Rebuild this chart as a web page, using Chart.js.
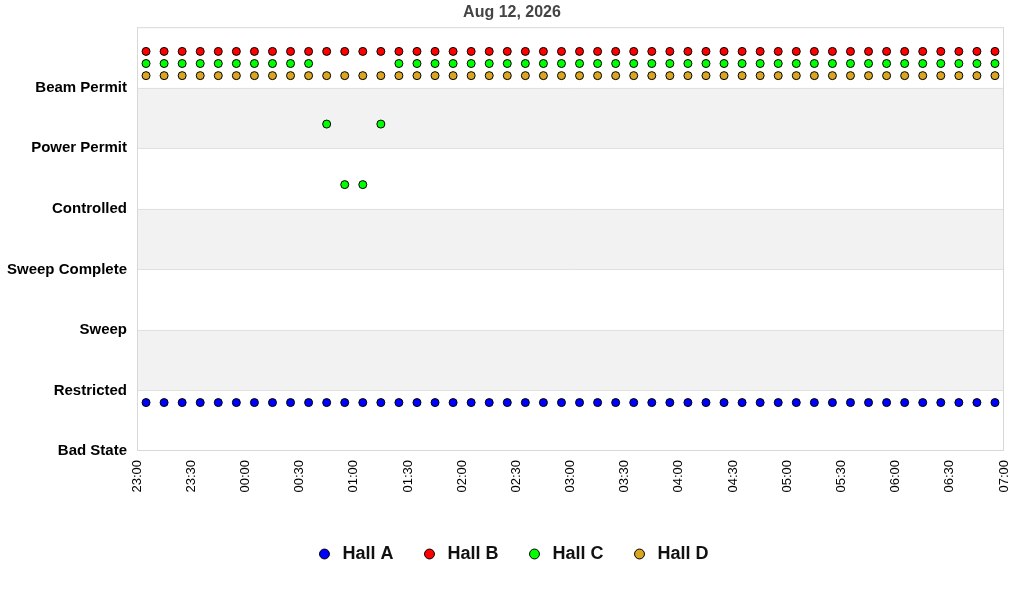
<!DOCTYPE html>
<html>
<head>
<meta charset="utf-8">
<script src="https://cdn.jsdelivr.net/npm/chart.js@4/dist/chart.umd.min.js"></script>
<style>
  html, body { margin: 0; padding: 0; background: #fff; }
  #wrap { width: 1024px; height: 600px; }
</style>
</head>
<body>
<div id="wrap"><canvas id="myChart"></canvas></div>
<script>
// state names, bottom to top
const stateNames = ["Bad State", "Restricted", "Sweep", "Sweep Complete", "Controlled", "Power Permit", "Beam Permit"];

// sample times, minutes after 23:00 (one every 10 minutes)
const sampleMinutes = [
  5, 15, 25, 35, 45, 55, 65, 75, 85, 95, 105, 115, 125, 135, 145, 155,
  165, 175, 185, 195, 205, 215, 225, 235, 245, 255, 265, 275, 285, 295, 305, 315,
  325, 335, 345, 355, 365, 375, 385, 395, 405, 415, 425, 435, 445, 455, 465, 475
];

// state index per sample for each hall
const hallA = [
  0, 0, 0, 0, 0, 0, 0, 0, 0, 0, 0, 0, 0, 0, 0, 0,
  0, 0, 0, 0, 0, 0, 0, 0, 0, 0, 0, 0, 0, 0, 0, 0,
  0, 0, 0, 0, 0, 0, 0, 0, 0, 0, 0, 0, 0, 0, 0, 0
];
const hallB = [
  6, 6, 6, 6, 6, 6, 6, 6, 6, 6, 6, 6, 6, 6, 6, 6,
  6, 6, 6, 6, 6, 6, 6, 6, 6, 6, 6, 6, 6, 6, 6, 6,
  6, 6, 6, 6, 6, 6, 6, 6, 6, 6, 6, 6, 6, 6, 6, 6
];
const hallC = [
  6, 6, 6, 6, 6, 6, 6, 6, 6, 6, 5, 4, 4, 5, 6, 6,
  6, 6, 6, 6, 6, 6, 6, 6, 6, 6, 6, 6, 6, 6, 6, 6,
  6, 6, 6, 6, 6, 6, 6, 6, 6, 6, 6, 6, 6, 6, 6, 6
];
const hallD = [
  6, 6, 6, 6, 6, 6, 6, 6, 6, 6, 6, 6, 6, 6, 6, 6,
  6, 6, 6, 6, 6, 6, 6, 6, 6, 6, 6, 6, 6, 6, 6, 6,
  6, 6, 6, 6, 6, 6, 6, 6, 6, 6, 6, 6, 6, 6, 6, 6
];

const hallNames = ["Hall A", "Hall B", "Hall C", "Hall D"];
const hallColors = ["#0000ff", "#ff0000", "#00ff00", "#daa520"];
// where inside its state band each hall sits
const hallOffsets = [0.8, 0.6, 0.4, 0.2];

function fmtTime(m) {
  const h = (23 + Math.floor(m / 60)) % 24;
  const mm = m % 60;
  return String(h).padStart(2, "0") + ":" + String(mm).padStart(2, "0");
}

// gray bands behind every other state
const bandPlugin = {
  id: "bands",
  beforeDatasetsDraw(chart) {
    const { ctx, chartArea, scales } = chart;
    ctx.save();
    ctx.fillStyle = "#f2f2f2";
    for (let s = 1; s < stateNames.length; s += 2) {
      const y1 = scales.y.getPixelForValue(s + 1);
      const y0 = scales.y.getPixelForValue(s);
      ctx.fillRect(chartArea.left, y1, chartArea.right - chartArea.left, y0 - y1);
    }
    ctx.strokeStyle = "#e0e0e0";
    ctx.lineWidth = 1;
    for (let s = 1; s < stateNames.length; s++) {
      const y = Math.round(scales.y.getPixelForValue(s)) + 0.5;
      ctx.beginPath();
      ctx.moveTo(chartArea.left, y);
      ctx.lineTo(chartArea.right, y);
      ctx.stroke();
    }
    ctx.strokeStyle = "#d8d8d8";
    ctx.strokeRect(chartArea.left + 0.5, chartArea.top + 0.5,
      chartArea.right - chartArea.left - 1, chartArea.bottom - chartArea.top - 1);
    ctx.restore();
  }
};

const allHalls = [hallA, hallB, hallC, hallD];
const datasets = [];
for (let i = 0; i < allHalls.length; i++) {
  const pts = [];
  for (let j = 0; j < sampleMinutes.length; j++) {
    pts.push({ x: sampleMinutes[j], y: allHalls[i][j] + hallOffsets[i] });
  }
  datasets.push({
    label: hallNames[i],
    data: pts,
    showLine: false,
    backgroundColor: hallColors[i],
    borderColor: "#000",
    borderWidth: 1,
    pointRadius: 4,
    pointHoverRadius: 4
  });
}

Chart.defaults.font.family = "'Liberation Sans', Arial, sans-serif";
Chart.defaults.color = "#000";

new Chart(document.getElementById("myChart"), {
  type: "scatter",
  data: { datasets: datasets },
  plugins: [bandPlugin],
  options: {
    responsive: true,
    maintainAspectRatio: false,
    animation: false,
    layout: { padding: { left: 0, right: 0, top: 0, bottom: 27 } },
    plugins: {
      title: {
        display: true,
        text: "Aug 12, 2026",
        color: "#444",
        font: { size: 16, weight: "bold" },
        padding: { top: 3, bottom: 5 }
      },
      legend: {
        position: "bottom",
        labels: {
          usePointStyle: true,
          pointStyle: "circle",
          boxWidth: 18,
          boxHeight: 7,
          padding: 27,
          color: "#111",
          font: { size: 18, weight: "bold" }
        }
      },
      tooltip: { enabled: false }
    },
    scales: {
      x: {
        type: "linear",
        min: 0,
        max: 480,
        grid: { display: false },
        border: { display: false },
        ticks: {
          stepSize: 30,
          minRotation: 90,
          maxRotation: 90,
          padding: 1,
          color: "#000",
          font: { size: 13 },
          callback: (v) => fmtTime(v)
        },
        afterFit: (scale) => { scale.height = 67; }
      },
      y: {
        type: "linear",
        min: 0,
        max: 7,
        grid: { display: false },
        border: { display: false },
        ticks: {
          stepSize: 1,
          padding: 2,
          color: "#000",
          font: { size: 15, weight: "bold" },
          callback: (v) => stateNames[v] || ""
        },
        afterFit: (scale) => { scale.width = 137; }
      },
      // empty right-hand margin so title and legend centre on the page
      yRight: {
        type: "linear",
        position: "right",
        grid: { display: false },
        border: { display: false },
        ticks: { display: false },
        afterFit: (scale) => { scale.width = 20; }
      }
    }
  }
});
</script>
</body>
</html>
